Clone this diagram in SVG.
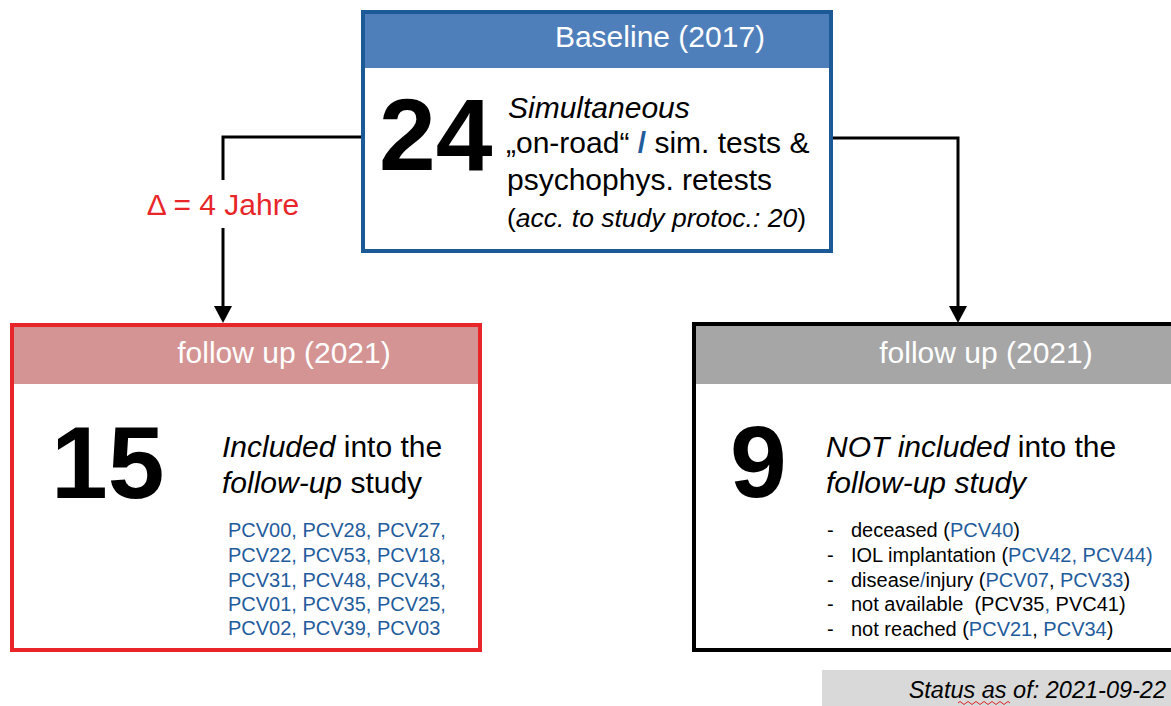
<svg xmlns="http://www.w3.org/2000/svg" width="1171" height="706" viewBox="0 0 1171 706">
<defs>
<style>
text{font-family:"Liberation Sans",Arial,sans-serif;}
.hdr{fill:#ffffff;font-size:30px;}
.big{font-weight:bold;font-size:102px;fill:#000;}
.t30{font-size:30px;fill:#000;}
.t20{font-size:20px;fill:#000;}
.blue{fill:#1f5c9c;}
.conn{fill:none;stroke:#000;stroke-width:3;}
</style>
<marker id="arr" viewBox="0 0 18 16" refX="9" refY="16" markerWidth="18" markerHeight="16" markerUnits="userSpaceOnUse" orient="auto-start-reverse">
<path d="M0,0 L18,0 L9,16 Z" fill="#000"/>
</marker>
</defs>
<rect width="1171" height="706" fill="#fff"/>

<g id="connectors">
<path class="conn" d="M363,137 H223 V180"/>
<path class="conn" d="M223,228 V306"/>
<path d="M214,306 L232,306 L223,323 Z" fill="#000"/>
<path class="conn" d="M831,138 H958 V306"/>
<path d="M949,306 L967,306 L958,323 Z" fill="#000"/>
<text x="223" y="215" text-anchor="middle" style="font-size:30px;fill:#e8262a;">Δ = 4 Jahre</text>
</g>

<g id="baseline">
<rect x="363" y="12" width="468" height="239" fill="#fff" stroke="#1b5a96" stroke-width="4"/>
<rect x="365" y="14" width="464" height="54" fill="#4f7fba"/>
<text class="hdr" x="660" y="47" text-anchor="middle">Baseline (2017)</text>
<text class="big" x="379" y="170">24</text>
<text class="t30" x="508" y="118" font-style="italic">Simultaneous</text>
<text class="t30" x="506" y="153">„on-road“ <tspan class="blue" font-weight="bold">/</tspan> sim. tests &amp;</text>
<text class="t30" x="507" y="190">psychophys. retests</text>
<text x="507" y="227" style="font-size:26.5px;fill:#000;">(<tspan font-style="italic">acc. to study protoc.: 20</tspan>)</text>
</g>

<g id="followup-included">
<rect x="12" y="325" width="468" height="325" fill="#fff" stroke="#e8262a" stroke-width="4"/>
<rect x="14" y="327" width="464" height="57" fill="#d49494"/>
<text class="hdr" x="284" y="363" text-anchor="middle">follow up (2021)</text>
<text class="big" x="51" y="498">15</text>
<text class="t30" x="222" y="457"><tspan font-style="italic">Included</tspan> into the</text>
<text class="t30" x="222" y="493"><tspan font-style="italic">follow-up</tspan> study</text>
<text class="t20 blue" x="228" y="537">PCV00, PCV28, PCV27,</text>
<text class="t20 blue" x="228" y="562">PCV22, PCV53, PCV18,</text>
<text class="t20 blue" x="228" y="587">PCV31, PCV48, PCV43,</text>
<text class="t20 blue" x="228" y="611">PCV01, PCV35, PCV25,</text>
<text class="t20 blue" x="228" y="635">PCV02, PCV39, PCV03</text>
</g>

<g id="followup-not-included">
<rect x="694" y="324" width="500" height="326" fill="#fff" stroke="#000" stroke-width="4"/>
<rect x="696" y="326" width="480" height="58" fill="#a6a6a6"/>
<text class="hdr" x="986" y="363" text-anchor="middle">follow up (2021)</text>
<text class="big" x="730" y="497">9</text>
<text class="t30" x="826" y="457"><tspan font-style="italic">NOT included</tspan> into the</text>
<text class="t30" x="826" y="493" font-style="italic">follow-up study</text>
<g class="t20">
<text class="t20" x="827" y="537">-</text>
<text class="t20" x="827" y="562">-</text>
<text class="t20" x="827" y="587">-</text>
<text class="t20" x="827" y="611">-</text>
<text class="t20" x="827" y="636">-</text>
<text class="t20" x="851" y="537">deceased (<tspan class="blue">PCV40</tspan>)</text>
<text class="t20" x="851" y="562">IOL implantation (<tspan class="blue">PCV42, PCV44)</tspan></text>
<text class="t20" x="851" y="587">disease<tspan class="blue">/</tspan>injury (<tspan class="blue">PCV07</tspan>, <tspan class="blue">PCV33</tspan>)</text>
<text class="t20" x="851" y="611" xml:space="preserve">not available  (PCV35<tspan class="blue">,</tspan> PVC41)</text>
<text class="t20" x="851" y="636">not reached (<tspan class="blue">PCV21</tspan>, <tspan class="blue">PCV34</tspan>)</text>
</g>
</g>

<g id="status">
<rect x="822" y="670" width="349" height="36" fill="#d9d9d9"/>
<text x="1166" y="698" text-anchor="end" font-style="italic" style="font-size:23.5px;fill:#000;">Status as of: 2021-09-22</text>
<path d="M958,703 q2,-3 4,0 t4,0 t4,0 t4,0 t4,0 t4,0 t4,0 t4,0 t4,0 t4,0 t4,0 t4,0 t4,0" fill="none" stroke="#e02020" stroke-width="1"/>
</g>
</svg>
